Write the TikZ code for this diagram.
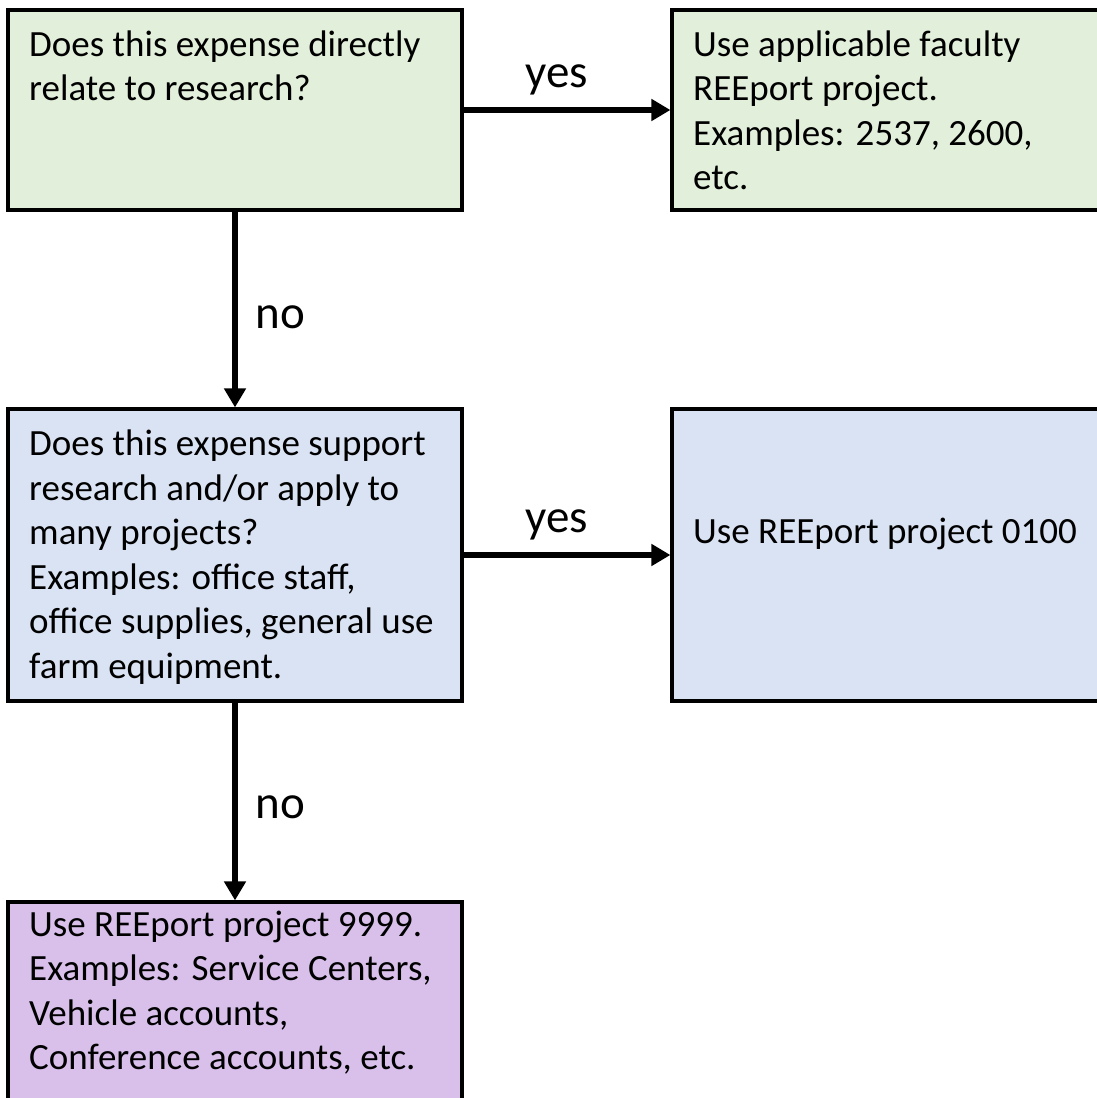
\documentclass[tikz,border=0pt]{standalone}
\usepackage{fontspec}
\setmainfont{Carlito}
\usetikzlibrary{arrows.meta}
\definecolor{boxgreen}{RGB}{226,239,218}
\definecolor{boxblue}{RGB}{218,227,243}
\definecolor{boxpurple}{RGB}{216,192,234}
\begin{document}
\begin{tikzpicture}[x=1pt,y=-1pt,
  box/.style={draw,line width=3.2pt,minimum width=454pt,inner sep=0pt},
  txt/.style={anchor=base west,align=left,inner sep=0pt,font=\fontsize{37pt}{44.6pt}\selectfont},
  lbl/.style={font=\fontsize{47pt}{50pt}\selectfont},
  flow/.style={line width=6pt,-{Triangle[length=19pt,width=21pt]}}]
\useasboundingbox (0,0) rectangle (1097,1098);
\clip (0,0) rectangle (1097,1098);
% boxes
\node[box,fill=boxgreen,minimum height=200pt] (direct) at (235,110) {};
\node[box,fill=boxgreen,minimum width=427pt,minimum height=200pt] (faculty) at (885.5,110) {};
\node[box,fill=boxblue,minimum height=292pt] (support) at (235,555) {};
\node[box,fill=boxblue,minimum width=427pt,minimum height=292pt] (general) at (885.5,555) {};
\node[box,fill=boxpurple,minimum height=260pt] (other) at (235,1032) {};
% texts (anchored at the baseline of the last line)
\node[txt] (directtxt) at (29,100.6) {Does this expense directly\\relate to research?};
\node[txt] (facultytxt) at (693,189.8) {Use applicable faculty\\REEport project.\\Examples: 2537, 2600,\\etc.};
\node[txt] (supporttxt) at (29,678.5) {Does this expense support\\research and/or apply to\\many projects?\\Examples: office staff,\\office supplies, general use\\farm equipment.};
\node[txt] (generaltxt) at (693,543.5) {Use REEport project 0100};
\node[txt] (othertxt) at (29,1069.8) {Use REEport project 9999.\\Examples: Service Centers,\\Vehicle accounts,\\Conference accounts, etc.};
% arrows
\draw[flow] (direct.east) -- node[lbl,above=9pt,pos=0.45] {yes} (faculty.west);
\draw[flow] (direct.south) -- node[lbl,right=14pt,yshift=-8pt] {no} (support.north);
\draw[flow] (support.east) -- node[lbl,above=9pt,pos=0.45] {yes} (general.west);
\draw[flow] (support.south) -- node[lbl,right=14pt,yshift=-6pt] {no} (other.north);
\end{tikzpicture}
\end{document}
